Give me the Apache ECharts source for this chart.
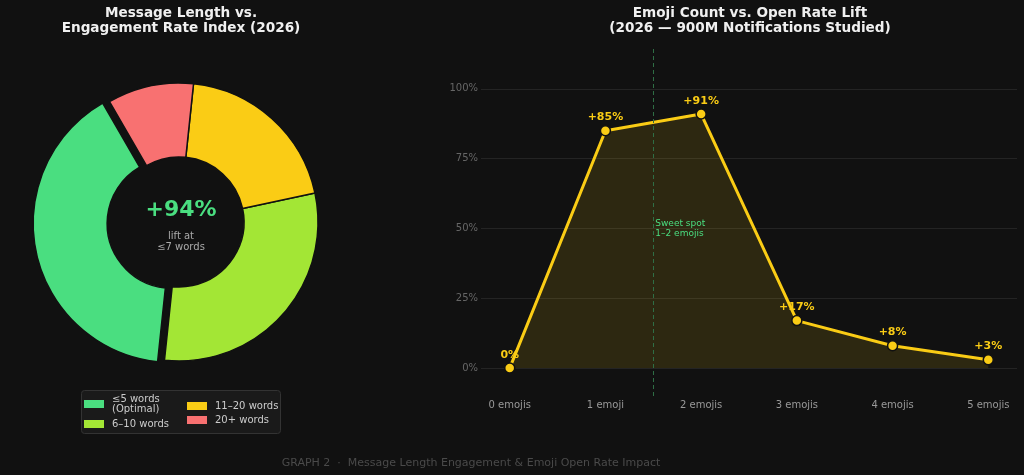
<!DOCTYPE html>
<html>
<head>
<meta charset="utf-8" />
<title>Message Length & Emoji Open Rate</title>
<script src="https://cdn.jsdelivr.net/npm/echarts@6/dist/echarts.min.js"></script>
<style>
  html, body { margin: 0; padding: 0; background: #111111; }
  #main { width: 1024px; height: 475px; }
</style>
</head>
<body>
<div id="main"></div>
<script>
// donut: message length buckets
var lengthNames = ['≤5 words\n(Optimal)', '6–10 words', '11–20 words', '20+ words'];
var lengthShare = [40, 30, 20, 10];
var lengthColors = ['#4ade80', '#a3e635', '#facc15', '#f87171'];

// line: emoji count vs open rate lift
var emojiCats = ['0 emojis', '1 emoji', '2 emojis', '3 emojis', '4 emojis', '5 emojis'];
var openLift = [0, 85, 91, 17, 8, 3];
var yTicks = [0, 25, 50, 75, 100];

var font = 'DejaVu Sans';
var chart = echarts.init(document.getElementById('main'));

var pieData = lengthNames.map(function (n, i) {
  return {
    name: n,
    value: lengthShare[i],
    selected: i === 0,
    itemStyle: { color: lengthColors[i] }
  };
});

var lineData = openLift.map(function (v, i) { return [i, v]; });

var titleStyle = { color: '#f0f0f0', fontSize: 13.6, fontWeight: 'bold', lineHeight: 15, fontFamily: font };

var option = {
  backgroundColor: '#111111',
  textStyle: { fontFamily: font },
  animation: false,
  title: [
    {
      text: 'Message Length vs.\nEngagement Rate Index (2026)',
      left: 176, top: 1, textAlign: 'center',
      textStyle: titleStyle
    },
    {
      text: 'Emoji Count vs. Open Rate Lift\n(2026 — 900M Notifications Studied)',
      left: 745, top: 1, textAlign: 'center',
      textStyle: titleStyle
    },
    {
      text: 'GRAPH 2  ·  Message Length Engagement & Emoji Open Rate Impact',
      left: 466, top: 453, textAlign: 'center',
      textStyle: { color: '#4a4a4a', fontSize: 11, fontWeight: 'normal', fontFamily: font }
    }
  ],
  legend: [
    {
      left: 79, top: 389, orient: 'vertical', itemGap: 5,
      itemWidth: 20, itemHeight: 8, selectedMode: false,
      icon: 'rect',
      itemStyle: { borderWidth: 0 },
      data: [lengthNames[0], lengthNames[1]],
      textStyle: { color: '#cccccc', fontSize: 10, lineHeight: 10, fontFamily: font, padding: [0, 0, 0, 3] }
    },
    {
      left: 182, top: 396, orient: 'vertical', itemGap: 4,
      itemWidth: 20, itemHeight: 8, selectedMode: false,
      icon: 'rect',
      itemStyle: { borderWidth: 0 },
      data: [lengthNames[2], lengthNames[3]],
      textStyle: { color: '#cccccc', fontSize: 10, fontFamily: font, padding: [0, 0, 0, 3] }
    }
  ],
  graphic: [
    {
      type: 'rect', left: 81, top: 390, z: -1,
      shape: { width: 199, height: 43, r: 3 },
      style: { fill: '#1a1a1a', stroke: '#333333', lineWidth: 1 }
    },
    {
      type: 'text', x: 181, y: 210,
      style: { text: '+94%', fill: '#4ade80', font: 'bold 22px "DejaVu Sans"', align: 'center', verticalAlign: 'middle' }
    },
    {
      type: 'text', x: 181, y: 242,
      style: { text: 'lift at\n≤7 words', fill: '#aaaaaa', font: '10px "DejaVu Sans"', align: 'center', verticalAlign: 'middle', lineHeight: 11 }
    }
  ],
  grid: { left: 481, right: 7, top: 47, bottom: 79 },
  xAxis: {
    type: 'value', min: -0.3, max: 5.3,
    axisLine: { show: false },
    axisTick: { show: false },
    splitLine: { show: false },
    axisLabel: {
      customValues: [0, 1, 2, 3, 4, 5],
      color: '#999999', fontSize: 10, margin: 4, fontFamily: font,
      formatter: function (v) { return emojiCats[Math.round(v)]; }
    }
  },
  yAxis: {
    type: 'value', min: -10, max: 115,
    axisLine: { show: false },
    axisTick: { show: false, customValues: yTicks },
    splitLine: { lineStyle: { color: '#242424', width: 1 } },
    axisLabel: {
      customValues: yTicks,
      color: '#666666', fontSize: 10, margin: 3, fontFamily: font,
      formatter: function (v) { return v + '%'; }
    }
  },
  series: [
    {
      type: 'pie',
      center: [179, 222],
      radius: [65, 139],
      startAngle: 120,
      clockwise: false,
      selectedMode: 'single',
      selectedOffset: 7,
      label: { show: false },
      labelLine: { show: false },
      emphasis: { disabled: true },
      itemStyle: { borderColor: '#111111', borderWidth: 1.5 },
      data: pieData
    },
    {
      type: 'line',
      data: lineData,
      symbol: 'circle',
      symbolSize: 10,
      lineStyle: { color: '#facc15', width: 3 },
      itemStyle: { color: '#facc15', borderColor: '#111111', borderWidth: 1.5 },
      areaStyle: { color: 'rgba(250,204,21,0.18)' },
      label: {
        show: true, position: 'top', distance: 2,
        color: '#facc15', fontSize: 11, fontWeight: 'bold', fontFamily: font,
        formatter: function (p) { return p.value[1] === 0 ? '0%' : '+' + p.value[1] + '%'; }
      },
      emphasis: { disabled: true },
      markLine: {
        silent: true, symbol: 'none',
        lineStyle: { color: '#2f6e45', type: [4, 3], width: 1 },
        label: { show: false },
        data: [{ xAxis: 1.5 }]
      },
      markPoint: {
        silent: true, symbol: 'circle', symbolSize: 0,
        label: {
          show: true, position: 'right', distance: 2,
          color: '#4ade80', fontSize: 9, lineHeight: 10, fontFamily: font,
          formatter: 'Sweet spot\n1–2 emojis'
        },
        data: [{ coord: [1.5, 50] }]
      }
    }
  ]
};

chart.setOption(option);
</script>
</body>
</html>
